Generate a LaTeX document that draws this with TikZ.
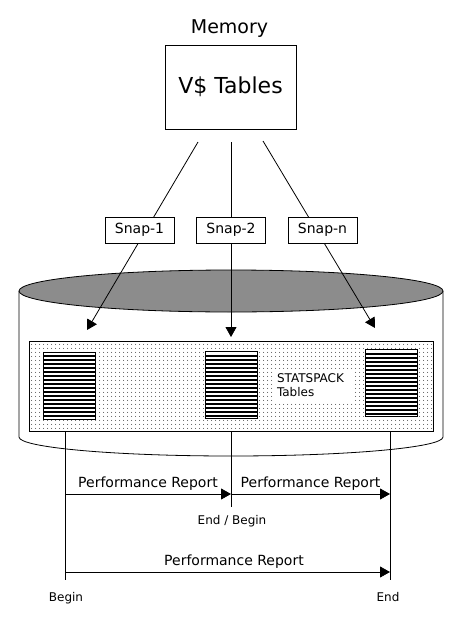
\documentclass[tikz,border=0pt]{standalone}
\usepackage{fontspec}
\setmainfont{DejaVu Sans}
\usepackage{tikz}
\usetikzlibrary{arrows.meta}
\usetikzlibrary{patterns.meta}
\usetikzlibrary{calc}

\tikzset{
	lbl/.style={font=\fontsize{14pt}{16pt}\selectfont},
	smalltxt/.style={font=\fontsize{12pt}{14pt}\selectfont},
	arr/.style={-{Triangle[length=10pt,width=11pt]}},
	snapbox/.style={draw, fill=white, lbl, minimum width=69pt, minimum height=26pt, inner sep=0pt},
	tablebox/.style={draw, fill=white, minimum width=52pt, minimum height=67pt, inner sep=0pt,
		path picture={\foreach \k in {0,...,15}
			\draw[line width=2pt] ($(path picture bounding box.north west)+(0,4+4*\k)$) -- ++(60,0);}}
}

\begin{document}
\begin{tikzpicture}[x=1pt, y=-1pt, line width=0.8pt]
	\useasboundingbox (0,0) rectangle (464,624);
	\node[font=\fontsize{19pt}{22pt}\selectfont] (mem) at (229.5,28.6) {Memory};
	\node[draw, minimum width=131pt, minimum height=84pt, font=\fontsize{22pt}{26pt}\selectfont] (vt) at (230.5,87) {V\$ Tables};
	
	\draw[fill=white] (19,291) -- (19,437) arc[start angle=180, end angle=360, x radius=212pt, y radius=19pt] -- (443,291);
	\draw[fill=black!45] (231,291) ellipse[x radius=212pt, y radius=21pt];
	\node[draw, pattern={Dots[distance=4pt, radius=0.5pt]}, minimum width=404pt, minimum height=90pt] (db) at (231,386) {};
	\node[tablebox] (t1) at (69,385.5) {};
	\node[tablebox] (t2) at (231,385) {};
	\node[tablebox] (t3) at (391,383) {};
	\node[fill=white, smalltxt, align=left, text width=74pt, inner sep=4pt] (sp) at (314,385) {STATSPACK\\Tables};
	
	\coordinate (s1) at (198,142);
	\coordinate (s2) at (231,142);
	\coordinate (s3) at (263,141);
	\coordinate (e1) at (87,330);
	\coordinate (e2) at (231,337);
	\coordinate (e3) at (375,328);
	\path[arr]
	(s1) edge (e1)
	(s2) edge (e2)
	(s3) edge (e3)
	;
	\node[snapbox] (sn1) at (139.5,230) {Snap-1};
	\node[snapbox] (sn2) at (231,230) {Snap-2};
	\node[snapbox] (sn3) at (322.5,230) {Snap-n};
	
	\coordinate (b) at (65,580);
	\coordinate (m) at (231,507);
	\coordinate (e) at (390,580);
	\draw (db.south -| b) -- (b);
	\draw (db.south -| m) -- (m);
	\draw (db.south -| e) -- (e);
	\coordinate (r0) at (65,494);
	\coordinate (r1) at (231,494);
	\coordinate (r2) at (390,494);
	\coordinate (q0) at (65,572);
	\coordinate (q1) at (390,572);
	\path[arr]
	(r0) edge node [above, lbl] {Performance Report} (r1)
	(r1) edge node [above, lbl] {Performance Report} (r2)
	(q0) edge node [above, lbl, pos=0.52] {Performance Report} (q1)
	;
	\node[smalltxt] (eb) at (232,521) {End / Begin};
	\node[smalltxt] (bg) at (66,598.4) {Begin};
	\node[smalltxt] (en) at (388,597) {End};
\end{tikzpicture}
\end{document}
